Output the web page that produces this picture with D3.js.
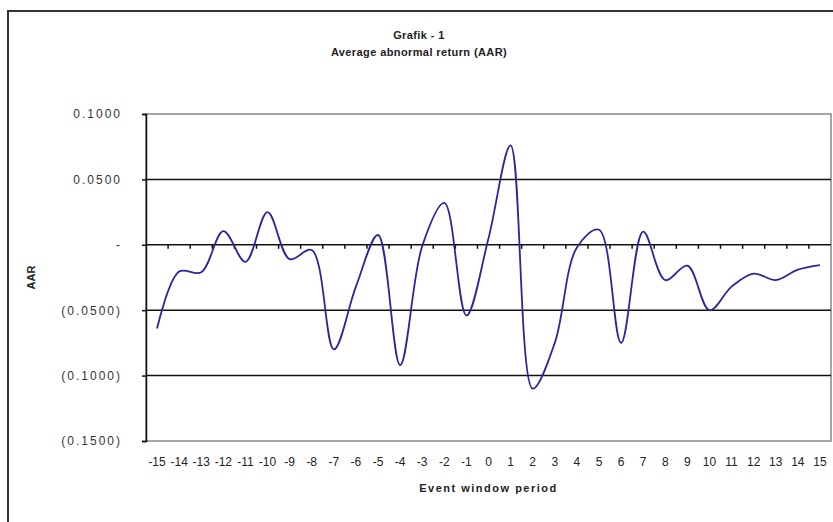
<!DOCTYPE html>
<html>
<head>
<meta charset="utf-8">
<script src="https://cdn.jsdelivr.net/npm/d3@7"></script>
<style>
    body { margin: 0; background: #fff; }
    svg { display: block; font-family: "Liberation Sans", Arial, sans-serif; }
</style>
</head>
<body>
<div id="chart"></div>
<script>
// Event window periods and average abnormal return
let periods = [-15, -14, -13, -12, -11, -10, -9, -8, -7, -6, -5, -4, -3, -2, -1, 0,
    1, 2, 3, 4, 5, 6, 7, 8, 9, 10, 11, 12, 13, 14, 15];
let aar = [-0.064, -0.0205, -0.021, 0.0105, -0.013, 0.025, -0.011, -0.004, -0.080, -0.032,
    0.0075, -0.092, -0.001, 0.032, -0.054, 0.005, 0.076, -0.110, -0.075, -0.002,
    0.0115, -0.075, 0.010, -0.027, -0.016, -0.050, -0.032, -0.022, -0.027, -0.019, -0.0155];

let yTicks = [0.1, 0.05, 0, -0.05, -0.1, -0.15];
let yTickLabels = ["0.1000", "0.0500", "-", "(0.0500)", "(0.1000)", "(0.1500)"];

let width = 833, height = 522;
let plot = {left: 146, right: 831, top: 114, bottom: 441};

let svg = d3.select("#chart").append("svg")
    .attr("width", width)
    .attr("height", height);

// outer chart frame (runs off the bottom / right of the picture)
svg.append("rect")
    .attr("x", 8).attr("y", 11)
    .attr("width", 840).attr("height", 530)
    .attr("fill", "none")
    .attr("stroke", "#333")
    .attr("stroke-width", 2);

let x = d3.scaleBand()
    .domain(periods)
    .range([plot.left, plot.right]);

let y = d3.scaleLinear()
    .domain([-0.15, 0.1])
    .range([plot.bottom, plot.top]);

// plot area border
svg.append("rect")
    .attr("x", plot.left).attr("y", plot.top)
    .attr("width", plot.right - plot.left)
    .attr("height", plot.bottom - plot.top)
    .attr("fill", "none")
    .attr("stroke", "#888")
    .attr("stroke-width", 1.5);

// gridlines
svg.append("g")
    .selectAll("line")
    .data(yTicks.filter(d => d > -0.15 && d < 0.1))
    .join("line")
    .attr("x1", plot.left).attr("x2", plot.right)
    .attr("y1", d => y(d)).attr("y2", d => y(d))
    .attr("stroke", "#111")
    .attr("stroke-width", 1.5);

// y axis
let yAxis = d3.axisLeft(y)
    .tickValues(yTicks)
    .tickFormat((d, i) => yTickLabels[i])
    .tickSize(4)
    .tickPadding(20);

let yG = svg.append("g")
    .attr("transform", "translate(" + plot.left + ",0)")
    .call(yAxis);
yG.select(".domain").attr("stroke", "#111").attr("stroke-width", 1.5);
yG.selectAll(".tick line").attr("stroke", "#111").attr("stroke-width", 1.5);
yG.selectAll(".tick text")
    .style("font-size", "12px")
    .style("letter-spacing", "2px")
    .attr("fill", "#333");

// category axis crossing at zero, ticks between categories
let tickPos = periods.slice(1).map(p => x(p));
svg.append("g")
    .selectAll("line")
    .data(tickPos)
    .join("line")
    .attr("x1", d => d).attr("x2", d => d)
    .attr("y1", y(0)).attr("y2", y(0) + 4)
    .attr("stroke", "#111")
    .attr("stroke-width", 1.5);

svg.append("g")
    .selectAll("text")
    .data(periods)
    .join("text")
    .attr("x", d => x(d) + x.bandwidth() / 2)
    .attr("y", 466)
    .attr("text-anchor", "middle")
    .style("font-size", "12px")
    .attr("fill", "#222")
    .text(d => d);

// smoothed AAR line
let line = d3.line()
    .x((d, i) => x(periods[i]) + x.bandwidth() / 2)
    .y(d => y(d))
    .curve(d3.curveCatmullRom.alpha(0.5));

svg.append("path")
    .datum(aar)
    .attr("fill", "none")
    .attr("stroke", "#28289a")
    .attr("stroke-width", 1.8)
    .attr("d", line);

// titles
svg.append("text")
    .attr("x", 419).attr("y", 39)
    .attr("text-anchor", "middle")
    .style("font-size", "11px")
    .style("font-weight", "bold")
    .style("letter-spacing", "0.4px")
    .attr("fill", "#222")
    .text("Grafik - 1");

svg.append("text")
    .attr("x", 419).attr("y", 56)
    .attr("text-anchor", "middle")
    .style("font-size", "11px")
    .style("font-weight", "bold")
    .style("letter-spacing", "0.4px")
    .attr("fill", "#222")
    .text("Average abnormal return (AAR)");

svg.append("text")
    .attr("x", (plot.left + plot.right) / 2).attr("y", 492)
    .attr("text-anchor", "middle")
    .style("font-size", "11px")
    .style("font-weight", "bold")
    .style("letter-spacing", "1.5px")
    .attr("fill", "#222")
    .text("Event window period");

svg.append("text")
    .attr("transform", "translate(35," + ((plot.top + plot.bottom) / 2) + ") rotate(-90)")
    .attr("text-anchor", "middle")
    .style("font-size", "11px")
    .style("font-weight", "bold")
    .attr("fill", "#222")
    .text("AAR");
</script>
</body>
</html>
